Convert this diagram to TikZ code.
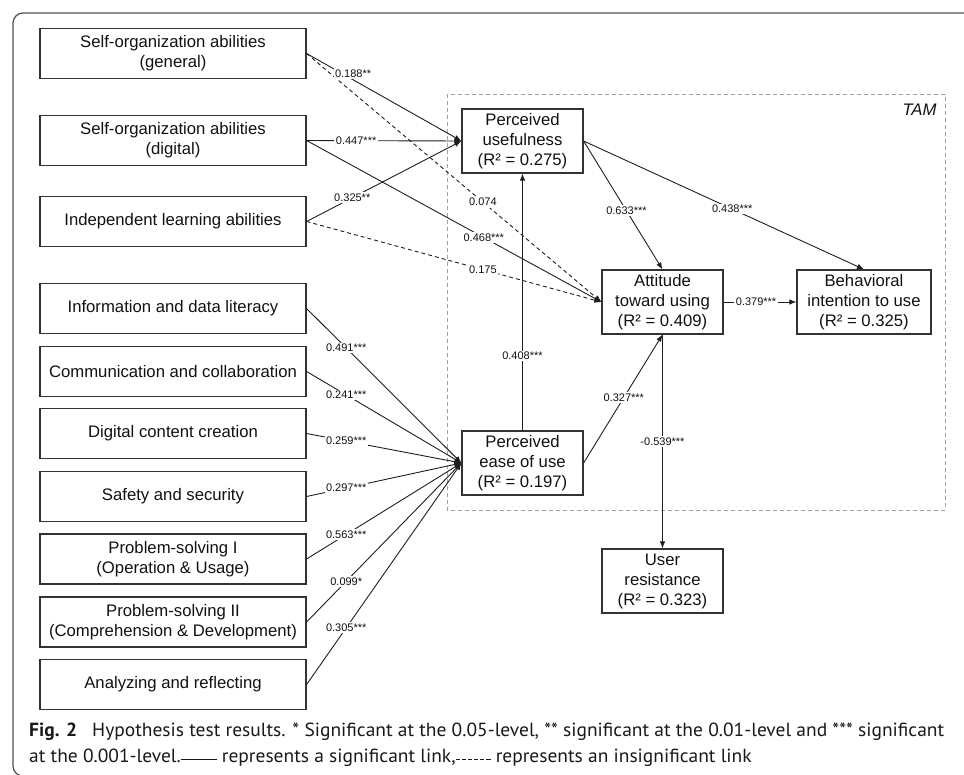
\documentclass[tikz,border=0pt]{standalone}
\usepackage{fontspec}
\setmainfont{Liberation Sans}
\newfontfamily\capfont{PT Sans}
\usetikzlibrary{arrows.meta}
\definecolor{boxc}{HTML}{333333}
\definecolor{linec}{HTML}{1E1E1E}
\definecolor{tamc}{HTML}{A0A0A0}
\definecolor{framec}{HTML}{505050}
\definecolor{txtc}{HTML}{111111}
\newcommand\solidsmp{\rule[1.6pt]{35pt}{1.3pt}}
\newcommand\dsg{\rule[1.6pt]{4pt}{1.3pt}\hspace{2pt}}
\newcommand\dashsmp{\dsg\dsg\dsg\dsg\dsg\rule[1.6pt]{4pt}{1.3pt}}
\begin{document}
\begin{tikzpicture}[x=1pt,y=-1pt,
  box/.style={draw=boxc, line width=1.2pt, minimum width=266pt, minimum height=50pt,
    inner sep=0pt, align=center, text=txtc, font=\fontsize{16.7}{20}\selectfont},
  tbox/.style={box, minimum width=121pt, minimum height=64pt},
  lnk/.style={draw=linec, line width=0.9pt, -{Latex[length=7pt,width=5.5pt]}},
  ins/.style={lnk, dash pattern=on 4pt off 3pt},
  lab/.style={fill=white, inner sep=1.5pt, text=txtc, font=\fontsize{11}{12}\selectfont}
]
\useasboundingbox (0,0) rectangle (964,774);
\begin{scope}
\clip (0,0) rectangle (964,774);
\draw[framec, line width=1.2pt, rounded corners=10pt] (13,13) rectangle (1000,776);
\end{scope}

% TAM frame
\draw[tamc, line width=0.8pt, dash pattern=on 4pt off 3pt] (447,94) rectangle (945,510);
\node[text=txtc, font=\fontsize{16.7}{20}\selectfont\itshape] (tam) at (919.5,110) {TAM};

% left boxes
\node[box] (g1) at (173,53.5) {Self-organization abilities\\(general)};
\node[box] (g2) at (173,140.5) {Self-organization abilities\\(digital)};
\node[box] (g3) at (173,221.5) {Independent learning abilities};
\node[box] (d1) at (173,308.5) {Information and data literacy};
\node[box] (d2) at (173,371.5) {Communication and collaboration};
\node[box] (d3) at (173,433.5) {Digital content creation};
\node[box] (d4) at (173,496.5) {Safety and security};
\node[box] (d5) at (173,559) {Problem-solving I\\(Operation \& Usage)};
\node[box] (d6) at (173,622) {Problem-solving II\\(Comprehension \& Development)};
\node[box] (d7) at (173,684.5) {Analyzing and reflecting};

% TAM boxes
\node[tbox] (pu) at (522.5,141) {Perceived\\usefulness\\(R² = 0.275)};
\node[tbox] (atu) at (662.5,302) {Attitude\\toward using\\(R² = 0.409)};
\node[tbox, minimum width=134pt] (bi) at (864,302) {Behavioral\\intention to use\\(R² = 0.325)};
\node[tbox] (peou) at (522.5,463) {Perceived\\ease of use\\(R² = 0.197)};
\node[tbox] (ur) at (662.5,581) {User\\resistance\\(R² = 0.323)};

% links from general abilities
\draw[ins] (g1.east) -- node[lab,pos=0.598]{0.074} (atu.west);
\draw[ins] (g3.east) -- node[lab,pos=0.598]{0.175} (atu.west);
\draw[lnk] (g2.east) -- node[lab,pos=0.601]{0.468***} (atu.west);
\draw[lnk] (g1.east) -- node[lab,pos=0.3,yshift=6pt]{0.188**} (pu.west);
\draw[lnk] (g2.east) -- node[lab,pos=0.32]{0.447***} (pu.west);
\draw[lnk] (g3.east) -- node[lab,pos=0.295]{0.325**} (pu.west);

% links from digital competences
\draw[lnk] (d1.east) -- node[lab,pos=0.256]{0.491***} (peou.west);
\draw[lnk] (d2.east) -- node[lab,pos=0.256]{0.241***} (peou.west);
\draw[lnk] (d3.east) -- node[lab,pos=0.256]{0.259***} (peou.west);
\draw[lnk] (d4.east) -- node[lab,pos=0.256]{0.297***} (peou.west);
\draw[lnk] (d5.east) -- node[lab,pos=0.256]{0.563***} (peou.west);
\draw[lnk] (d6.east) -- node[lab,pos=0.256]{0.099*} (peou.west);
\draw[lnk] (d7.east) -- node[lab,pos=0.256]{0.305***} (peou.west);

% TAM links
\draw[lnk] (peou.north) -- node[lab,pos=0.29]{0.408***} (pu.south);
\draw[lnk] (pu.east) -- node[lab,pos=0.543]{0.633***} (atu.north);
\draw[lnk] (pu.east) -- node[lab,pos=0.53]{0.438***} (bi.north);
\draw[lnk] (atu.east) -- node[lab,pos=0.446]{0.379***} (bi.west);
\draw[lnk] (peou.east) -- node[lab,pos=0.51]{0.327***} (atu.south);
\draw[lnk] (atu.south) -- node[lab,pos=0.5]{-0.539***} (ur.north);

% caption
\node[anchor=base west, inner sep=0pt, text=black!90] (cap) at (29,736)
 {\resizebox{915pt}{\height}{\capfont\fontsize{19}{26}\selectfont
  \begin{tabular}[t]{@{}l@{}}
  \textbf{Fig. 2}\hspace{0.5em} Hypothesis test results. * Significant at the 0.05-level, ** significant at the 0.01-level and *** significant\\
  at the 0.001-level.\solidsmp\ represents a significant link,\dashsmp\ represents an insignificant link
  \end{tabular}}};
\end{tikzpicture}
\end{document}
